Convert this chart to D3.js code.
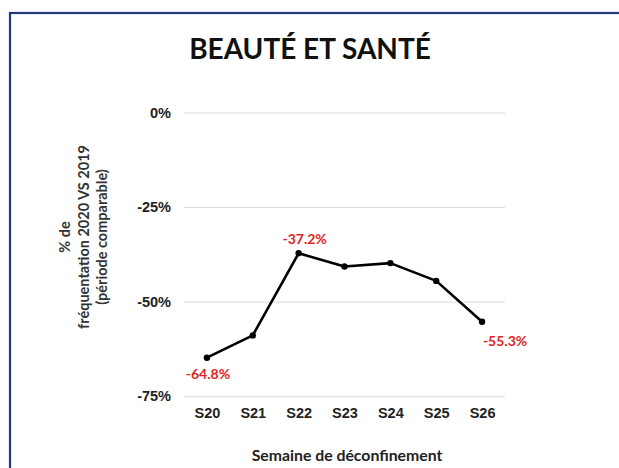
<!DOCTYPE html>
<html>
<head>
<meta charset="utf-8">
<script src="https://cdn.jsdelivr.net/npm/d3@7"></script>
<style>
  body { margin: 0; background: #fff; }
  svg { display: block; }
</style>
</head>
<body>
<div id="chart"></div>
<script>
var weeks = ["S20", "S21", "S22", "S23", "S24", "S25", "S26"];
var values = [-64.8, -58.9, -37.2, -40.7, -39.8, -44.5, -55.3];
var yTicks = [0, -25, -50, -75];
var labelled = ["S20", "S22", "S26"];

var w = 619, h = 468;
var svg = d3.select("#chart").append("svg")
    .attr("width", w)
    .attr("height", h);

// navy frame, only top and left visible
svg.append("rect")
    .attr("x", 10).attr("y", 13)
    .attr("width", 640).attr("height", 480)
    .attr("fill", "none")
    .attr("stroke", "#1f3a78")
    .attr("stroke-width", 2.2);

svg.append("text")
    .attr("x", 310).attr("y", 59)
    .attr("text-anchor", "middle")
    .attr("font-family", "Lato")
    .attr("font-weight", "bold")
    .attr("font-size", 28)
    .attr("fill", "#111")
    .text("BEAUTÉ ET SANTÉ");

var x = d3.scalePoint()
    .domain(weeks)
    .range([184, 505])
    .padding(0.5);

var y = d3.scaleLinear()
    .domain([-75, 0])
    .range([396.3, 112.5]);

// grid + y labels
var yAxis = svg.append("g")
    .attr("transform", "translate(184,0)")
    .call(d3.axisLeft(y).tickValues(yTicks).tickSize(-321).tickPadding(13)
      .tickFormat(function(d) { return d + "%"; }));
yAxis.select(".domain").remove();
yAxis.selectAll(".tick line").attr("stroke", "#d9d9d9").attr("stroke-width", 1);
yAxis.selectAll(".tick text")
    .attr("font-family", "Liberation Sans")
    .attr("font-weight", "bold")
    .attr("font-size", 14.5)
    .attr("fill", "#222");

// x labels
var xAxis = svg.append("g")
    .attr("transform", "translate(0,396)")
    .call(d3.axisBottom(x).tickSize(0).tickPadding(12));
xAxis.select(".domain").remove();
xAxis.selectAll(".tick text")
    .attr("font-family", "Liberation Sans")
    .attr("font-weight", "bold")
    .attr("font-size", 14.5)
    .attr("fill", "#222");

var line = d3.line()
    .x(function(d, i) { return x(weeks[i]); })
    .y(function(d) { return y(d); });

svg.append("path")
    .datum(values)
    .attr("d", line)
    .attr("fill", "none")
    .attr("stroke", "#000")
    .attr("stroke-width", 2.6)
    .attr("stroke-linejoin", "round");

svg.selectAll(".dot")
    .data(values)
  .enter().append("circle")
    .attr("class", "dot")
    .attr("cx", function(d, i) { return x(weeks[i]); })
    .attr("cy", function(d) { return y(d); })
    .attr("r", 3.2)
    .attr("fill", "#000");

// red value labels
var offsets = { "S20": [1, 21], "S22": [6, -9], "S26": [23, 24] };
svg.selectAll(".val")
    .data(labelled)
  .enter().append("text")
    .attr("class", "val")
    .attr("x", function(d) { return x(d) + offsets[d][0]; })
    .attr("y", function(d) { return y(values[weeks.indexOf(d)]) + offsets[d][1]; })
    .attr("text-anchor", "middle")
    .attr("font-family", "Lato")
    .attr("font-weight", "bold")
    .attr("font-size", 14)
    .attr("fill", "#e0231f")
    .text(function(d) { return values[weeks.indexOf(d)].toFixed(1) + "%"; });

// y axis title
var yt = svg.append("text")
    .attr("transform", "translate(88,237) rotate(-90)")
    .attr("text-anchor", "middle")
    .attr("font-family", "Lato")
    .attr("font-weight", "bold")
    .attr("font-size", 14.5)
    .attr("fill", "#333");
var yLines = ["% de", "fréquentation 2020 VS 2019", "(période comparable)"];
yt.selectAll("tspan")
    .data(yLines)
  .enter().append("tspan")
    .attr("x", 0)
    .attr("dy", function(d, i) { return i === 0 ? -18 : 18.5; })
    .text(function(d) { return d; });

svg.append("text")
    .attr("x", 347).attr("y", 461)
    .attr("text-anchor", "middle")
    .attr("font-family", "Lato")
    .attr("font-weight", "bold")
    .attr("font-size", 15.8)
    .attr("fill", "#222")
    .text("Semaine de déconfinement");
</script>
</body>
</html>
